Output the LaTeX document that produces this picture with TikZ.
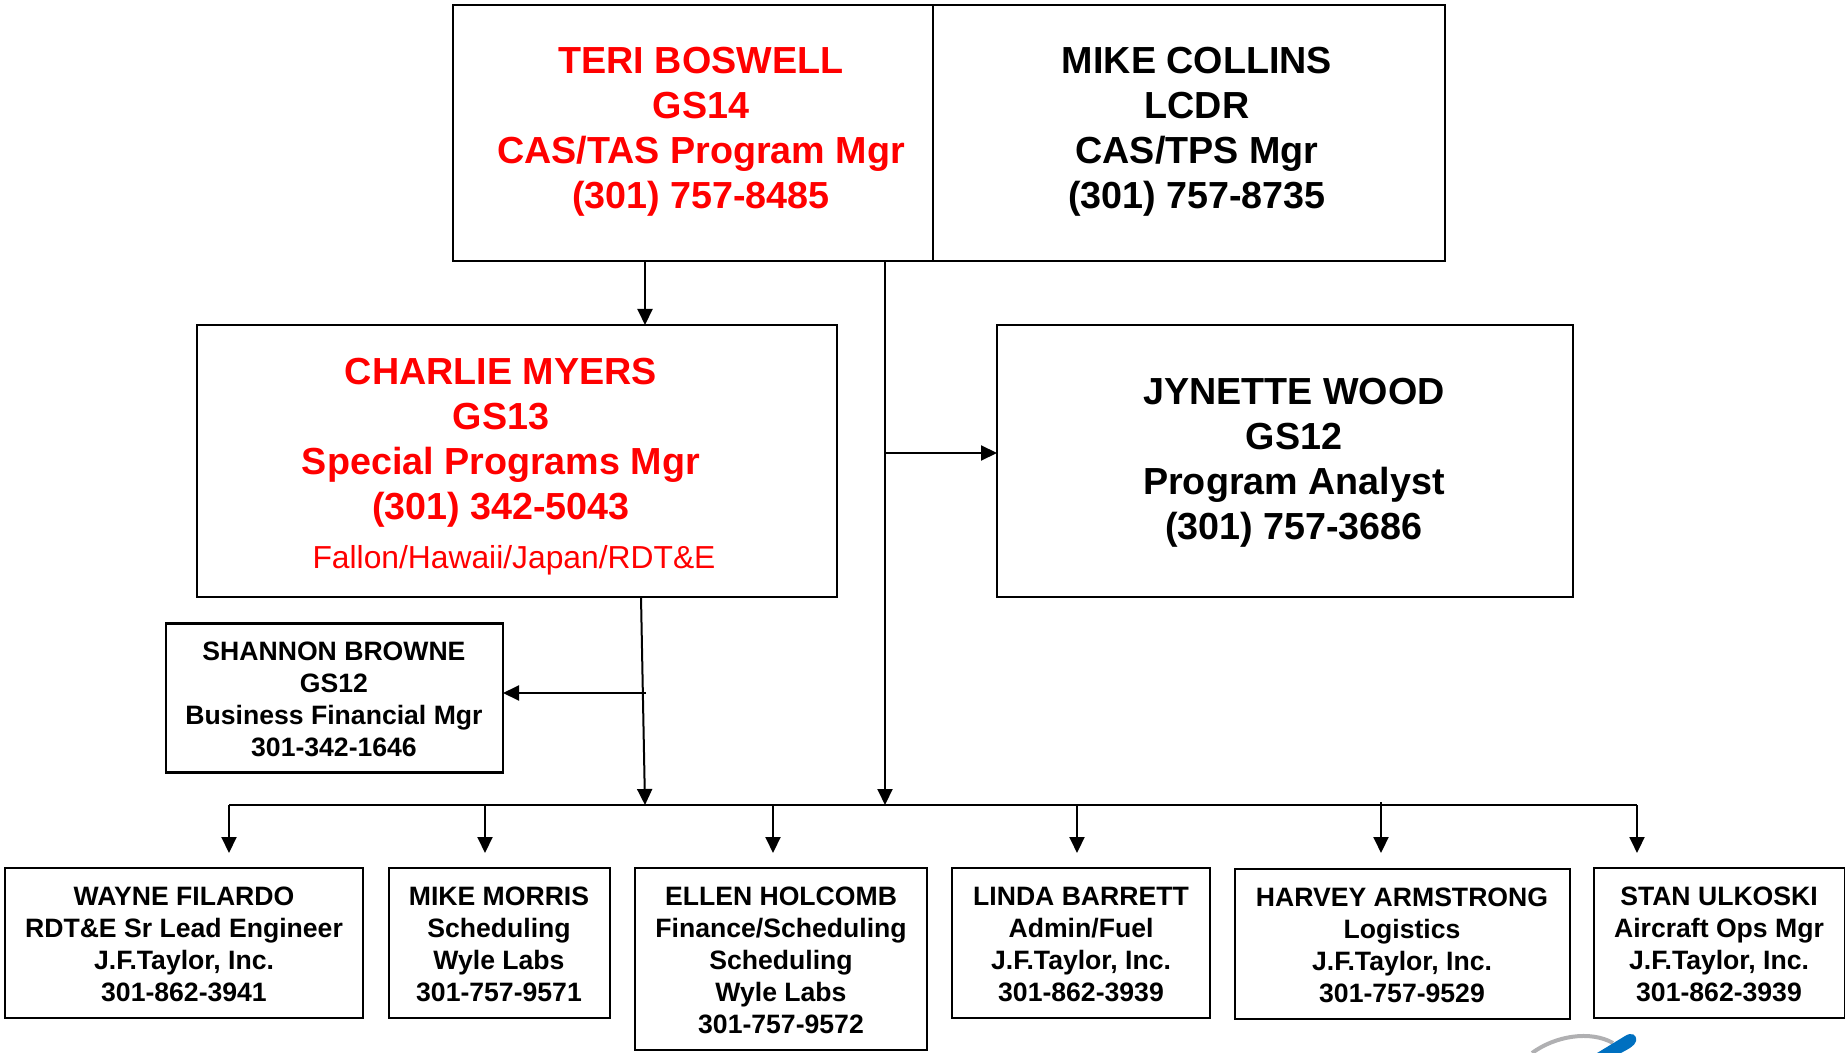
\documentclass[tikz,border=0pt]{standalone}
\usepackage{fontspec}
\setmainfont{Liberation Sans}
\usepackage{xcolor}
\usetikzlibrary{arrows.meta}
\definecolor{logoblue}{RGB}{0,112,192}
\definecolor{logogray}{RGB}{176,176,178}
\tikzset{
  boxnode/.style={draw=black, line width=1.1pt, fill=white, inner sep=0pt, outer sep=0pt},
  bigtext/.style={align=center, inner sep=0pt, font=\fontsize{18.85}{22.5}\selectfont\bfseries},
  smalltext/.style={align=center, inner sep=0pt, font=\fontsize{13.3}{16}\selectfont\bfseries},
  wire/.style={draw=black, line width=1pt},
  arrowwire/.style={wire, -{Triangle[width=7.5pt,length=8pt]}}
}
\begin{document}
\begin{tikzpicture}[x=0.5pt,y=-0.5pt]
\useasboundingbox (0,0) rectangle (1845,1053);
%%% Draws boxes
% top row
\node[boxnode, minimum width=240pt, minimum height=128pt] (boswell) at (693,133){};
\node[boxnode, minimum width=256pt, minimum height=128pt] (collins) at (1189,133){};
% middle row
\node[boxnode, minimum width=320pt, minimum height=136pt] (myers) at (517,461){};
\node[boxnode, minimum width=288pt, minimum height=136pt] (wood) at (1285,461){};
\node[boxnode, minimum width=168.5pt, minimum height=74.5pt] (browne) at (334.5,698){};
% bottom row
\node[boxnode, minimum width=179pt, minimum height=75pt] (filardo) at (184,943){};
\node[boxnode, minimum width=110.5pt, minimum height=75pt] (morris) at (499.5,943){};
\node[boxnode, minimum width=146pt, minimum height=91pt] (holcomb) at (781,959){};
\node[boxnode, minimum width=129pt, minimum height=75pt] (barrett) at (1081,943){};
\node[boxnode, minimum width=167.5pt, minimum height=75pt] (armstrong) at (1402.5,944){};
\node[boxnode, minimum width=125.5pt, minimum height=75pt] (ulkoski) at (1719.5,943){};
%%% Labels boxes
\node[bigtext, text=red] (boswelltext) at (701,132) {TERI BOSWELL\\GS14\\CAS/TAS Program Mgr\\(301) 757-8485};
\node[bigtext] (collinstext) at (1197,132) {MIKE COLLINS\\LCDR\\CAS/TPS Mgr\\(301) 757-8735};
\node[bigtext, text=red] (myerstext) at (501,443) {CHARLIE MYERS\\GS13\\Special Programs Mgr\\(301) 342-5043};
\node[align=center, inner sep=0pt, text=red, font=\fontsize{15.9}{18}\selectfont] (myersarea) at (514,560) {Fallon/Hawaii/Japan/RDT\&E};
\node[bigtext] (woodtext) at (1294,463) {JYNETTE WOOD\\GS12\\Program Analyst\\(301) 757-3686};
\node[smalltext] (brownetext) at (334,699) {SHANNON BROWNE\\GS12\\Business Financial Mgr\\301-342-1646};
\node[smalltext] (filardotext) at (184,944) {WAYNE FILARDO\\RDT\&E Sr Lead Engineer\\J.F.Taylor, Inc.\\301-862-3941};
\node[smalltext] (morristext) at (499,944) {MIKE MORRIS\\Scheduling\\Wyle Labs\\301-757-9571};
\node[smalltext] (holcombtext) at (781,960) {ELLEN HOLCOMB\\Finance/Scheduling\\Scheduling\\Wyle Labs\\301-757-9572};
\node[smalltext] (barretttext) at (1081,944) {LINDA BARRETT\\Admin/Fuel\\J.F.Taylor, Inc.\\301-862-3939};
\node[smalltext] (armstrongtext) at (1402,945) {HARVEY ARMSTRONG\\Logistics\\J.F.Taylor, Inc.\\301-757-9529};
\node[smalltext] (ulkoskitext) at (1719,944) {STAN ULKOSKI\\Aircraft Ops Mgr\\J.F.Taylor, Inc.\\301-862-3939};
%%% Draws connectors
% junction points
\coordinate (busleft) at (229,805);
\coordinate (busright) at (1637,805);
\coordinate (busmyers) at (645,805);
\coordinate (bustrunk) at (885,805);
\coordinate (myersout) at (641,597);
\coordinate (brownetap) at (646,693);
\coordinate (woodtap) at (885,453);
\coordinate (armstrongtap) at (1381,802);
% from top row
\draw[arrowwire] (boswell.south -| busmyers) to (myers.north -| busmyers);
\draw[arrowwire] (boswell.south -| bustrunk) to (bustrunk);
\draw[arrowwire] (woodtap) to (wood.west |- woodtap);
% from myers
\draw[arrowwire] (myersout) to (busmyers);
\draw[arrowwire] (brownetap) to (browne.east |- brownetap);
% bus and drops
\draw[wire] (busleft) to (busright);
\foreach \dropname/\dropx in {filardo/229, morris/485, holcomb/773, barrett/1077, ulkoski/1637}{
  \coordinate (drop\dropname) at (\dropx,853);
  \draw[arrowwire] (\dropx,805) to (drop\dropname);
}
\coordinate (droparmstrong) at (1381,853);
\draw[arrowwire] (armstrongtap) to (droparmstrong);
%%% Draws logo corner
\draw[logogray, line width=2pt] (1532,1053) .. controls (1555,1036) and (1590,1030) .. (1613,1043);
\fill[logoblue] (1597,1053) -- (1625,1036) .. controls (1631,1032) and (1637,1034) .. (1636,1041) .. controls (1635,1046) and (1628,1049) .. (1621,1053) -- cycle;
\end{tikzpicture}
\end{document}
